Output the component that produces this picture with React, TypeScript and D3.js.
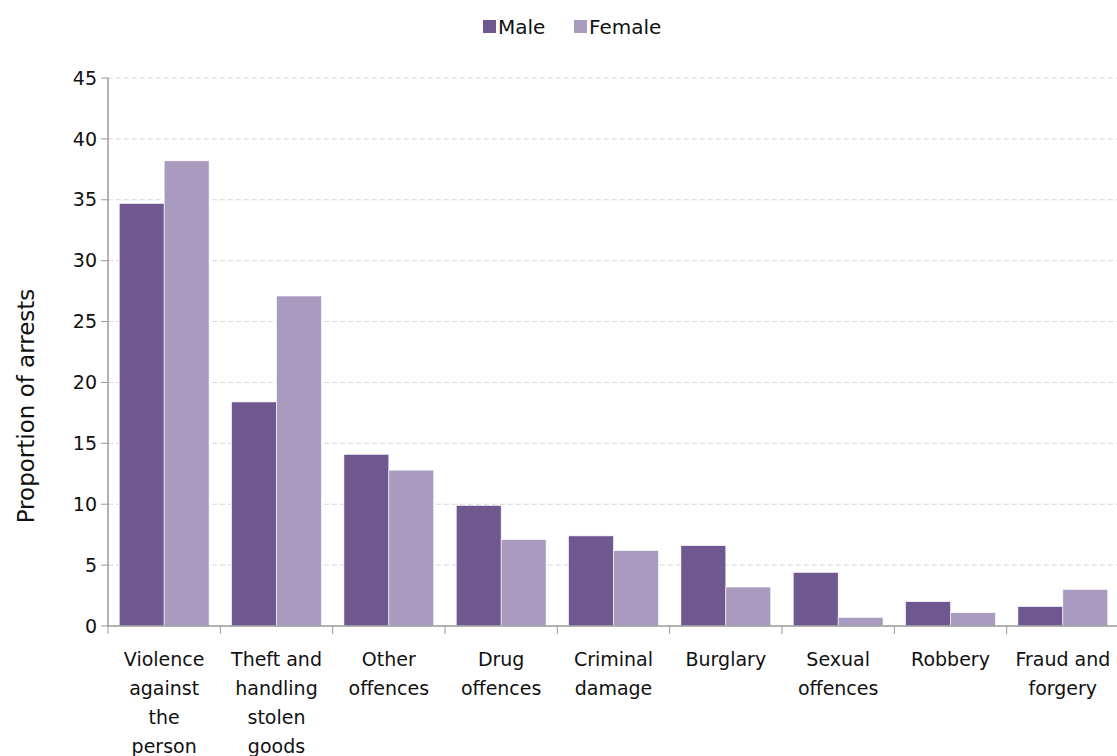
import React from "react";
import * as d3 from "d3";

const categories = [
  ["Violence", "against", "the", "person"],
  ["Theft and", "handling", "stolen", "goods"],
  ["Other", "offences"],
  ["Drug", "offences"],
  ["Criminal", "damage"],
  ["Burglary"],
  ["Sexual", "offences"],
  ["Robbery"],
  ["Fraud and", "forgery"],
];
const maleValues = [34.7, 18.4, 14.1, 9.9, 7.4, 6.6, 4.4, 2.0, 1.6];
const femaleValues = [38.2, 27.1, 12.8, 7.1, 6.2, 3.2, 0.7, 1.1, 3.0];
const yTicks = [0, 5, 10, 15, 20, 25, 30, 35, 40, 45];
const seriesNames = ["Male", "Female"];
const colors = ["#6F5890", "#A99BC0"];

export default function App() {
  const W = 1117, H = 756;
  const left = 108, right = 1119, top = 78, bottom = 626;
  const font = "Tahoma, 'DejaVu Sans', sans-serif";
  const idx = categories.map((_, i) => String(i));
  const x = d3.scaleBand().domain(idx).range([left, right]).paddingInner(0.2).paddingOuter(0.1);
  const xOuter = d3.scaleBand().domain(idx).range([left, right]);
  const y = d3.scaleLinear().domain([0, 45]).range([bottom, top]);
  const bw = x.bandwidth() / 2;
  const series = [maleValues, femaleValues];
  return (
    <svg width={W} height={H} style={{ position: "absolute", left: 0, top: 0, background: "#fff" }} fontFamily={font}>
      {yTicks.map((t) => (
        <g key={t}>
          {t > 0 && (
            <line x1={left} x2={W} y1={y(t)} y2={y(t)} stroke="#d9d9d9" strokeDasharray="5,3" />
          )}
          <line x1={left - 7} x2={left} y1={y(t)} y2={y(t)} stroke="#999" />
          <text x={left - 11} y={y(t)} dy="0.35em" textAnchor="end" fontSize={19} fill="#111">{t}</text>
        </g>
      ))}
      {series.map((vals, s) =>
        vals.map((v, i) => (
          <rect key={`${s}-${i}`} x={(x(String(i)) as number) + s * bw} y={y(v)} width={bw} height={y(0) - y(v)}
            fill={colors[s]} stroke="#ffffff" strokeWidth={0.6} />
        ))
      )}
      <line x1={left} x2={left} y1={top} y2={bottom} stroke="#999" strokeWidth={1.5} />
      <line x1={left} x2={W} y1={bottom} y2={bottom} stroke="#999" strokeWidth={1.5} />
      {idx.map((k) => (
        <line key={k} x1={xOuter(k)} x2={xOuter(k)} y1={bottom} y2={bottom + 8} stroke="#999" />
      ))}
      {categories.map((lines, i) => (
        <text key={i} textAnchor="middle" fontSize={19} fill="#111">
          {lines.map((ln, j) => (
            <tspan key={j} x={(xOuter(String(i)) as number) + xOuter.bandwidth() / 2} y={666 + j * 29}>{ln}</tspan>
          ))}
        </text>
      ))}
      <text transform="translate(34,406) rotate(-90)" textAnchor="middle" fontSize={23} fill="#111">Proportion of arrests</text>
      <g>
        <rect x={483} y={20} width={13} height={13} fill={colors[0]} />
        <text x={498} y={27} dy="0.35em" fontSize={20} fill="#111">{seriesNames[0]}</text>
        <rect x={574} y={20} width={13} height={13} fill={colors[1]} />
        <text x={589} y={27} dy="0.35em" fontSize={20} fill="#111">{seriesNames[1]}</text>
      </g>
    </svg>
  );
}
